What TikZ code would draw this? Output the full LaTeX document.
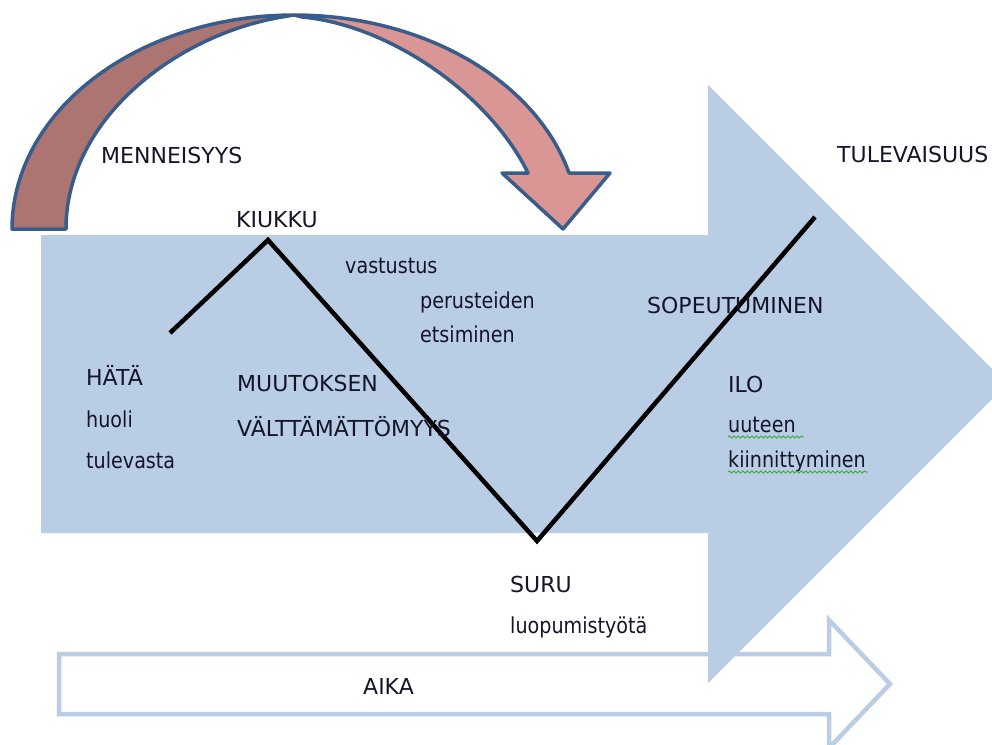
\documentclass[tikz,border=0pt]{standalone}
\usepackage{fontspec}
\setmainfont{DejaVu Sans}
\newfontfamily\capsfont{DejaVu Sans}
\newfontfamily\lowfont[FakeStretch=0.87]{DejaVu Sans}
\usetikzlibrary{decorations.pathmorphing}

\definecolor{flowblue}{HTML}{B9CDE5}
\definecolor{ribbonback}{HTML}{AC7571}
\definecolor{ribbonfront}{HTML}{D99694}
\definecolor{ribbonedge}{HTML}{385D8A}
\definecolor{spellgreen}{HTML}{3CA83C}
\definecolor{inktext}{HTML}{15152A}

\begin{document}
\begin{tikzpicture}[x=1pt,y=-1pt,
  capslabel/.style={anchor=base west, inner sep=0pt, text=inktext,
    font=\capsfont\fontsize{22}{26}\selectfont},
  lowlabel/.style={anchor=base west, inner sep=0pt, text=inktext,
    font=\lowfont\fontsize{22}{26}\selectfont},
  ribbon/.style={draw=ribbonedge, line width=3.5pt, line join=round},
  zigline/.style={draw=black, line width=4.5pt, line join=miter},
  timearrow/.style={draw=flowblue, line width=4.5pt, fill=white, line join=miter},
  squiggle/.style={draw=spellgreen, line width=0.9pt, decorate,
    decoration={snake, amplitude=1.1pt, segment length=4.5pt}}]

\useasboundingbox (0,0) rectangle (992,744);
\clip (0,0) rectangle (992,744);

% time axis arrow (outline only)
\draw[timearrow] (59,654) -- (829,654) -- (829,620) -- (890,684)
  -- (829,748) -- (829,714) -- (59,714) -- cycle;

% large block arrow from past to future
\fill[flowblue] (41,235) -- (708,235) -- (708,85) -- (1007,384)
  -- (708,683) -- (708,533) -- (41,533) -- cycle;

% curved ribbon arrow: back half (rising from the left foot)
\filldraw[ribbon, fill=ribbonback]
  plot[domain=180:90, samples=60] ({294+282*cos(\x)},{229-214*sin(\x)})
  -- (282,17) .. controls (175,35) and (66,120) .. (66,229)
  -- cycle;

% curved ribbon arrow: front half ending in the head
\filldraw[ribbon, fill=ribbonfront]
  plot[domain=90:15.17, samples=60] ({294+285*cos(\x)},{229-214*sin(\x)})
  -- (610,173) -- (563,229) -- (502,173) -- (528,173)
  .. controls (490,95) and (390,25) .. (302,17)
  -- cycle;

% emotional curve
\coordinate (z0) at (170,333);
\coordinate (z1) at (268,240);
\coordinate (z2) at (537,541);
\coordinate (z3) at (815,217);
\draw[zigline] (z0) -- (z1) -- (z2) -- (z3);

% labels
\node[capslabel] (menn) at (101,163) {MENNEISYYS};
\node[capslabel] (kiukku) at (236,227) {KIUKKU};
\node[lowlabel] (vast) at (345,273) {vastustus};
\node[lowlabel] (perus) at (420,308) {perusteiden};
\node[lowlabel] (etsi) at (420,342) {etsiminen};
\node[capslabel] (hata) at (86,385) {HÄTÄ};
\node[lowlabel] (huoli) at (86,427) {huoli};
\node[lowlabel] (tule) at (86,468) {tulevasta};
\node[capslabel] (muut) at (237,391) {MUUTOKSEN};
\node[capslabel] (valt) at (237,436) {VÄLTTÄMÄTTÖMYYS};
\node[capslabel] (sopeu) at (647,313) {SOPEUTUMINEN};
\node[capslabel] (ilo) at (728,392) {ILO};
\node[lowlabel] (uut) at (728,432) {uuteen};
\node[lowlabel] (kiinn) at (728,467) {kiinnittyminen};
\node[capslabel] (tulev) at (837,162) {TULEVAISUUS};
\node[capslabel] (suru) at (510,592) {SURU};
\node[lowlabel] (luop) at (510,633) {luopumistyötä};
\node[capslabel] (aika) at (363,694) {AIKA};

% spell-check underlines
\draw[squiggle] (uut.base west) ++(0,5) -- ++(76,0);
\draw[squiggle] (kiinn.base west) ++(0,5) -- ++(140,0);

\end{tikzpicture}
\end{document}
